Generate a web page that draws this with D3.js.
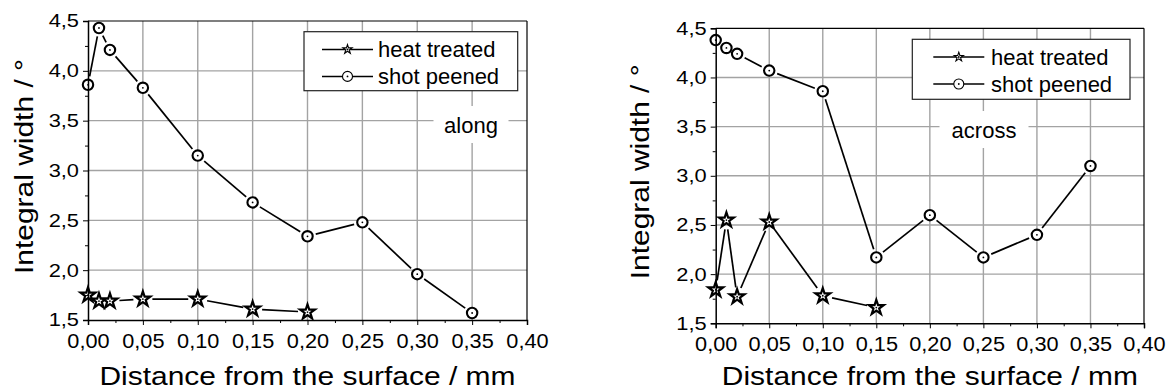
<!DOCTYPE html>
<html>
<head>
<meta charset="utf-8">
<script src="https://cdn.jsdelivr.net/npm/d3@7/dist/d3.min.js"></script>
<style>
  body { margin: 0; background: #fff; }
  svg { display: block; }
  text { font-family: "Liberation Sans", Arial, sans-serif; fill: #000; }
</style>
</head>
<body>
<svg id="chart" width="1171" height="392"></svg>
<script>
// values
var xTicks = [0, 0.05, 0.10, 0.15, 0.20, 0.25, 0.30, 0.35, 0.40];
var yTicks = [1.5, 2.0, 2.5, 3.0, 3.5, 4.0, 4.5];
var seriesNames = ["heat treated", "shot peened"];

var depthHeatAlong = [0, 0.01, 0.02, 0.05, 0.10, 0.15, 0.20];
var widthHeatAlong = [1.75, 1.69, 1.69, 1.71, 1.71, 1.61, 1.58];
var depthShotAlong = [0, 0.01, 0.02, 0.05, 0.10, 0.15, 0.20, 0.25, 0.30, 0.35];
var widthShotAlong = [3.86, 4.43, 4.21, 3.83, 3.15, 2.68, 2.34, 2.48, 1.96, 1.57];

var depthHeatAcross = [0, 0.01, 0.02, 0.05, 0.10, 0.15];
var widthHeatAcross = [1.84, 2.55, 1.77, 2.53, 1.78, 1.66];
var depthShotAcross = [0, 0.01, 0.02, 0.05, 0.10, 0.15, 0.20, 0.25, 0.30, 0.35];
var widthShotAcross = [4.38, 4.30, 4.24, 4.07, 3.86, 2.17, 2.60, 2.17, 2.40, 3.10];

function zip(xs, ys) {
    return xs.map(function(x, i) { return {x: x, y: ys[i]}; });
}

var svg = d3.select("#chart");
var comma = function(f) { return function(v) { return d3.format(f)(v).replace(".", ","); }; };

// stretch text along its own direction (the original fonts run wider)
function stretch(sel, k) {
    sel.each(function() {
        var len = this.getComputedTextLength();
        d3.select(this).attr("textLength", len * k).attr("lengthAdjust", "spacingAndGlyphs");
    });
}

var star = d3.symbol().type(d3.symbolStar);

function drawMarker(g, kind, x, y, small) {
    if (kind === "star") {
        g.append("path")
            .attr("transform", "translate(" + x + "," + y + ")")
            .attr("d", star.size(small ? 26 : 68)())
            .attr("fill", "#fff")
            .attr("stroke", "#000")
            .attr("stroke-width", small ? 1.1 : 2.2)
            .attr("stroke-linejoin", "miter");
    } else {
        g.append("circle")
            .attr("cx", x).attr("cy", y)
            .attr("r", small ? 5 : 5.2)
            .attr("fill", "#fff")
            .attr("stroke", "#000")
            .attr("stroke-width", small ? 1.1 : 2.1);
    }
    g.append("circle").attr("cx", x).attr("cy", y).attr("r", 0.9).attr("fill", "#000");
}

function panel(cfg) {
    var x = d3.scaleLinear().domain([0, 0.40]).range([cfg.left, cfg.right]);
    var y = d3.scaleLinear().domain([1.5, 4.5]).range([cfg.bottom, cfg.top]);
    var g = svg.append("g");

    // grid
    g.selectAll(".gx").data(xTicks.slice(1, -1)).enter().append("line")
        .attr("x1", x).attr("x2", x).attr("y1", cfg.top).attr("y2", cfg.bottom)
        .attr("stroke", "#a3a3a3").attr("stroke-width", 1.4);
    g.selectAll(".gy").data(yTicks.slice(1, -1)).enter().append("line")
        .attr("y1", y).attr("y2", y).attr("x1", cfg.left).attr("x2", cfg.right)
        .attr("stroke", "#a3a3a3").attr("stroke-width", 1.4);

    // note label with a white patch over the grid
    g.append("rect")
        .attr("x", cfg.note.x - cfg.note.w / 2).attr("y", cfg.note.y - 27)
        .attr("width", cfg.note.w).attr("height", 37).attr("fill", "#fff");
    g.append("text").attr("x", cfg.note.x).attr("y", cfg.note.y)
        .attr("text-anchor", "middle").style("font-size", "22px").text(cfg.note.text);

    // series: lines stop short of the symbols
    cfg.series.forEach(function(s) {
        var pts = s.data.map(function(d) { return [x(d.x), y(d.y)]; });
        for (var i = 1; i < pts.length; i++) {
            var p = pts[i - 1], q = pts[i];
            var dx = q[0] - p[0], dy = q[1] - p[1], dist = Math.sqrt(dx * dx + dy * dy);
            if (dist <= 2 * s.gap) continue;
            var t = s.gap / dist;
            g.append("line")
                .attr("x1", p[0] + dx * t).attr("y1", p[1] + dy * t)
                .attr("x2", q[0] - dx * t).attr("y2", q[1] - dy * t)
                .attr("stroke", "#000").attr("stroke-width", 1.7);
        }
        pts.forEach(function(p) { drawMarker(g, s.kind, p[0], p[1], false); });
    });

    // frame
    g.append("line").attr("x1", cfg.left).attr("x2", cfg.right).attr("y1", cfg.top).attr("y2", cfg.top)
        .attr("stroke", "#000").attr("stroke-width", 1.2);
    g.append("line").attr("x1", cfg.right).attr("x2", cfg.right).attr("y1", cfg.top).attr("y2", cfg.bottom)
        .attr("stroke", "#000").attr("stroke-width", 1.2);

    var xMinor = d3.range(0.025, 0.40, 0.05);
    var yMinor = d3.range(1.75, 4.5, 0.5);

    var xAxis = g.append("g").attr("transform", "translate(0," + cfg.bottom + ")")
        .call(d3.axisBottom(x).tickValues(xTicks).tickFormat(comma(".2f")).tickSize(5).tickPadding(4));
    xAxis.select(".domain").attr("stroke-width", 1.5);
    xAxis.selectAll("text").style("font-size", "20.5px").attr("dy", "0.93em").call(stretch, 1.06);
    g.append("g").attr("transform", "translate(0," + cfg.bottom + ")")
        .call(d3.axisBottom(x).tickValues(xMinor).tickFormat("").tickSize(3))
        .select(".domain").remove();

    var yAxis = g.append("g").attr("transform", "translate(" + cfg.left + ",0)")
        .call(d3.axisLeft(y).tickValues(yTicks).tickFormat(comma(".1f")).tickSize(5).tickPadding(4));
    yAxis.select(".domain").attr("stroke-width", 1.5);
    yAxis.selectAll("text").style("font-size", "18.5px").call(stretch, 1.18);
    g.append("g").attr("transform", "translate(" + cfg.left + ",0)")
        .call(d3.axisLeft(y).tickValues(yMinor).tickFormat("").tickSize(3))
        .select(".domain").remove();

    // titles
    g.append("text")
        .attr("x", (cfg.left + cfg.right) / 2).attr("y", cfg.xTitleY)
        .attr("text-anchor", "middle").style("font-size", "26.5px")
        .text("Distance from the surface / mm").call(stretch, 1.13);
    g.append("text")
        .attr("transform", "translate(" + cfg.yTitleX + "," + ((cfg.top + cfg.bottom) / 2 - 4) + ") rotate(-90)")
        .attr("text-anchor", "middle").style("font-size", "26.5px")
        .text("Integral width / \u00b0").call(stretch, 1.13);

    // legend
    var L = cfg.legend;
    var lg = g.append("g");
    lg.append("rect").attr("x", L.x).attr("y", L.y).attr("width", L.w).attr("height", L.h)
        .attr("fill", "#fff").attr("stroke", "#222").attr("stroke-width", 1.2);
    cfg.series.forEach(function(s, i) {
        var base = L.y + 25.7 + i * 27;
        var ly = base - 8;
        var x0 = L.x + L.lineX;
        lg.append("line").attr("x1", x0).attr("x2", x0 + 51).attr("y1", ly).attr("y2", ly)
            .attr("stroke", "#000").attr("stroke-width", 1.5);
        drawMarker(lg, s.kind, x0 + 25.5, ly, true);
        lg.append("text").attr("x", L.x + L.textX).attr("y", base)
            .style("font-size", "22px").text(s.name);
    });
}

panel({
    left: 88, right: 527, top: 21, bottom: 320, yTitleX: 33, xTitleY: 385,
    note: {text: "along", x: 471, y: 133, w: 75},
    legend: {x: 304, y: 31.7, w: 213.7, h: 59, lineX: 18, textX: 74},
    series: [
        {name: seriesNames[0], kind: "star", gap: 9.5, data: zip(depthHeatAlong, widthHeatAlong)},
        {name: seriesNames[1], kind: "circle", gap: 8.5, data: zip(depthShotAlong, widthShotAlong)}
    ]
});

panel({
    left: 715.7, right: 1144, top: 28.3, bottom: 323.3, yTitleX: 649, xTitleY: 385,
    note: {text: "across", x: 984, y: 138, w: 89},
    legend: {x: 912.3, y: 39.3, w: 217.7, h: 60, lineX: 21, textX: 78.7},
    series: [
        {name: seriesNames[0], kind: "star", gap: 9.5, data: zip(depthHeatAcross, widthHeatAcross)},
        {name: seriesNames[1], kind: "circle", gap: 8.5, data: zip(depthShotAcross, widthShotAcross)}
    ]
});
</script>
</body>
</html>
